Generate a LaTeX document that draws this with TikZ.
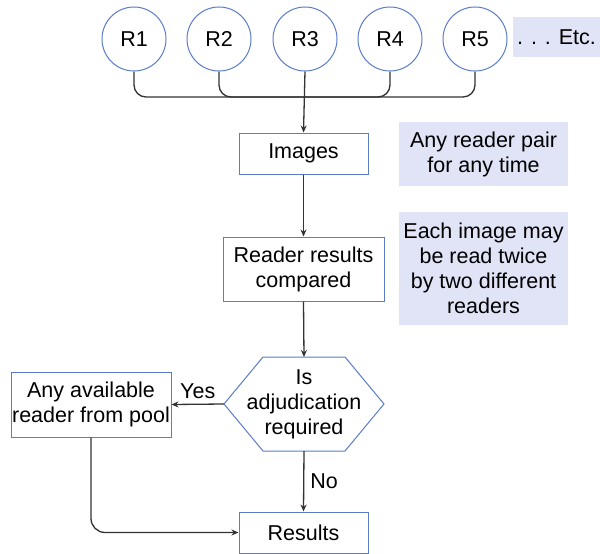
\documentclass[tikz,border=0pt]{standalone}
\usepackage{fontspec}
\setmainfont{Liberation Sans}
\usetikzlibrary{arrows.meta}
\definecolor{edgeblue}{HTML}{5B7CC8}
\definecolor{notefill}{HTML}{E1E3F6}
\definecolor{linegray}{HTML}{333333}
\tikzset{
  every node/.style={font=\fontsize{21.5}{25}\selectfont, align=center, inner sep=0pt},
  reader/.style={circle, draw=edgeblue, line width=1pt, minimum size=64pt},
  stepbox/.style={draw=edgeblue, line width=1pt, fill=white},
  note/.style={fill=notefill},
  conn/.style={draw=linegray, line width=1.3pt},
  arr/.style={conn, -{Stealth[length=7pt,width=6pt]}},
}
\begin{document}
\begin{tikzpicture}[x=1pt,y=-1pt]
\useasboundingbox (0,0) rectangle (600,554);

% readers
\node[reader] (r1) at (134,39) {R1};
\node[reader] (r2) at (219,39) {R2};
\node[reader] (r3) at (305,39) {R3};
\node[reader] (r4) at (390,39) {R4};
\node[reader] (r5) at (475,39) {R5};
\node[note, minimum width=87pt, minimum height=40pt] (etc) at (556.5,37) {. . . Etc.};

% process boxes
\node[stepbox, minimum width=129pt, minimum height=41pt] (img) at (303.5,153.5) {Images};
\node[stepbox, minimum width=161pt, minimum height=64pt] (cmp) at (303.5,269) {Reader results\\compared};

% decision hexagon
\coordinate (hL) at (224,404);
\coordinate (hT) at (304,357);
\coordinate (hB) at (304,451);
\draw[draw=edgeblue, line width=1pt, fill=white]
  (hL) -- (263,357) -- (345,357) -- (384,404) -- (345,451) -- (263,451) -- cycle;
\node (dec) at (304,404) {Is\\adjudication\\required};

\node[stepbox, minimum width=160pt, minimum height=65pt] (pool) at (91,404.5) {Any available\\reader from pool};
\node[stepbox, minimum width=129pt, minimum height=41pt] (res) at (303.5,532.5) {Results};

% side notes
\node[note, minimum width=169pt, minimum height=64pt] (n1) at (483.5,154) {Any reader pair\\for any time};
\node[note, minimum width=169pt, minimum height=113pt] (n2) at (483.5,268.5) {Each image may\\be read twice\\by two different\\readers};

% reader bus
\coordinate (busM) at (305,97);
\coordinate (busR) at (475,97);
\draw[conn, rounded corners=12pt] (r1.south) |- (busR) -- (r5.south);
\draw[conn, rounded corners=12pt] (r2.south) |- (busM);
\draw[conn, rounded corners=12pt] (r4.south) |- (busM);
\draw[arr] (r3.south) -- (img.north);

% flow
\draw[arr] (img.south) -- (cmp.north);
\draw[arr] (cmp.south) -- (hT);
\draw[arr] (hL) -- node[above=5pt] {Yes} (pool.east);
\draw[arr] (hB) -- node[right=6pt] {No} (res.north);
\draw[arr, rounded corners=14pt] (pool.south) |- (res.west);
\end{tikzpicture}
\end{document}
